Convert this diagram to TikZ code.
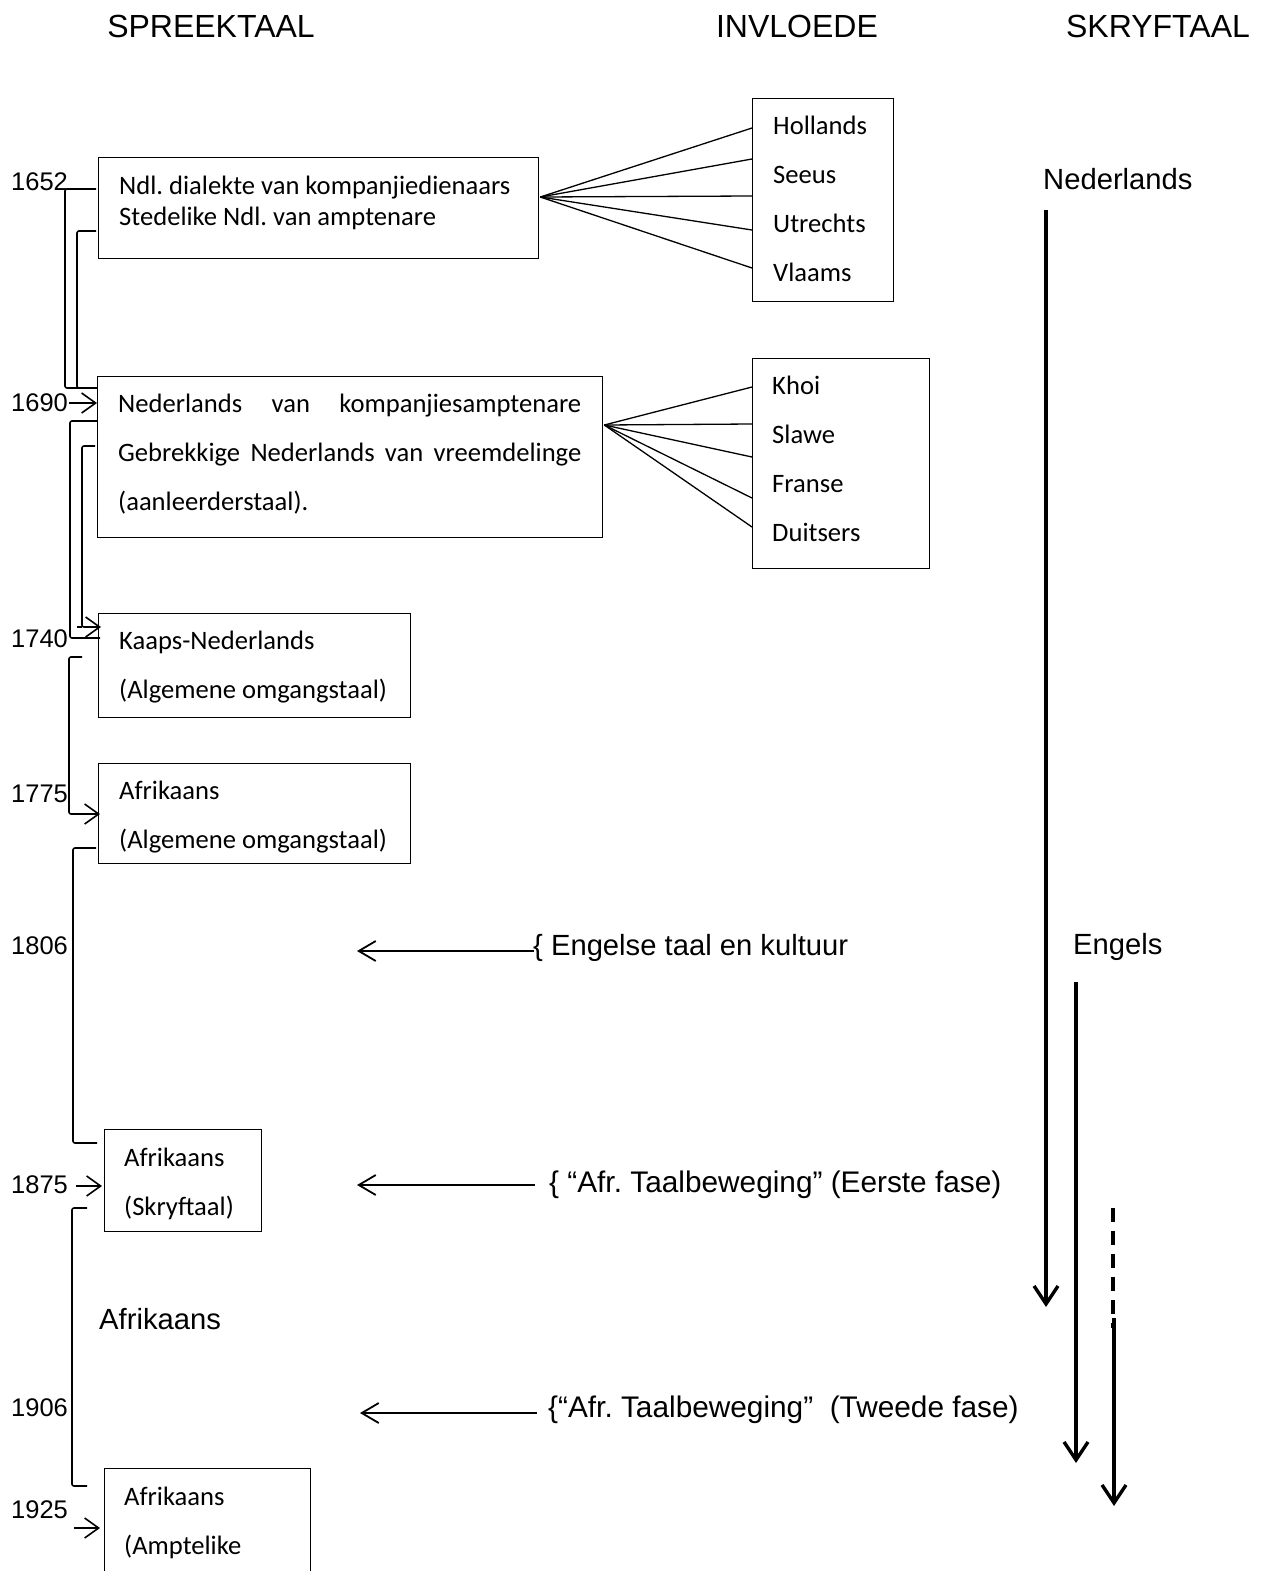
\documentclass[tikz,border=0pt]{standalone}
\usepackage{fontspec}
\setmainfont{Carlito}
\newfontfamily\arial{Liberation Sans}
\usetikzlibrary{arrows.meta,calc}

\begin{document}
\frenchspacing
\begin{tikzpicture}[x=1pt,y=-1pt,
  box/.style={draw, line width=1.3pt, inner sep=0pt, anchor=north west},
  txt/.style={anchor=base west, inner sep=0pt, font=\fontsize{26.6}{30}\selectfont},
  head/.style={anchor=base, inner sep=0pt, font=\arial\fontsize{32}{36}\selectfont},
  big/.style={anchor=base west, inner sep=0pt, font=\arial\fontsize{29.2}{34}\selectfont},
  bigger/.style={anchor=base west, inner sep=0pt, font=\arial\fontsize{29.8}{34}\selectfont},
  yr/.style={anchor=base west, inner sep=0pt, font=\arial\fontsize{25.5}{30}\selectfont},
  fan/.style={line width=1.3pt},
  brk/.style={line width=1.6pt, rounded corners=2pt},
  sarr/.style={brk, -{Straight Barb[length=14pt,width=20pt]}},
  marr/.style={line width=1.8pt, -{Straight Barb[length=17pt,width=20pt]}},
  varr/.style={line width=3.4pt, -{Straight Barb[length=18pt,width=24pt]}},
]
\clip (0,0) rectangle (1267,1571);

% column headings
\node[head] (hSpreek) at (211,38) {SPREEKTAAL};
\node[head] (hInvl) at (797,38) {INVLOEDE};
\node[head] (hSkryf) at (1158,38) {SKRYFTAAL};

% years
\node[yr] (y1652) at (11,190) {1652};
\node[yr] (y1690) at (11,411) {1690};
\node[yr] (y1740) at (11,647) {1740};
\node[yr] (y1775) at (11,802) {1775};
\node[yr] (y1806) at (11,954) {1806};
\node[yr] (y1875) at (11,1193) {1875};
\node[yr] (y1906) at (11,1416) {1906};
\node[yr] (y1925) at (11,1518) {1925};

% boxes of the spoken language
\node[box, minimum width=440, minimum height=101] (b1) at (98,157) {};
\node[txt] (t11) at (119,194) {Ndl. dialekte van kompanjiedienaars};
\node[txt] (t12) at (119,225) {Stedelike Ndl. van amptenare};

\node[box, minimum width=505, minimum height=161] (b2) at (97,376) {};
\node[txt] (t21) at (118,412) {\makebox[463pt][s]{Nederlands van kompanjiesamptenare}};
\node[txt] (t22) at (118,461) {\makebox[463pt][s]{Gebrekkige Nederlands van vreemdelinge}};
\node[txt] (t23) at (118,510) {(aanleerderstaal).};

\node[box, minimum width=312, minimum height=104] (b3) at (98,613) {};
\node[txt] (t31) at (119,649) {Kaaps-Nederlands};
\node[txt] (t32) at (119,698) {(Algemene omgangstaal)};

\node[box, minimum width=312, minimum height=100] (b4) at (98,763) {};
\node[txt] (t41) at (119,799) {Afrikaans};
\node[txt] (t42) at (119,848) {(Algemene omgangstaal)};

\node[box, minimum width=157, minimum height=102] (b5) at (104,1129) {};
\node[txt] (t51) at (124,1166) {Afrikaans};
\node[txt] (t52) at (124,1215) {(Skryftaal)};

\node[box, minimum width=206, minimum height=130] (b6) at (104,1468) {};
\node[txt] (t61) at (124,1505) {Afrikaans};
\node[txt] (t62) at (124,1554) {(Amptelike};

\node[big] (afr) at (99,1329) {Afrikaans};

% influence boxes
\node[box, minimum width=141, minimum height=203] (h) at (752,98) {};
\node[txt] (h1) at (773,134) {Hollands};
\node[txt] (h2) at (773,183) {Seeus};
\node[txt] (h3) at (773,232) {Utrechts};
\node[txt] (h4) at (773,281) {Vlaams};

\node[box, minimum width=177, minimum height=210] (k) at (752,358) {};
\node[txt] (k1) at (772,394) {Khoi};
\node[txt] (k2) at (772,443) {Slawe};
\node[txt] (k3) at (772,492) {Franse};
\node[txt] (k4) at (772,541) {Duitsers};

% fans of influence lines
\coordinate (f1) at ($(b1.north east)+(1,40)$);
\foreach \o in {30,61,98,132,170}
  \draw[fan] (f1) -- ($(h.north west)+(0,\o)$);
\coordinate (f2) at ($(b2.north east)+(1,49)$);
\foreach \o in {29,66,99,140,169}
  \draw[fan] (f2) -- ($(k.north west)+(0,\o)$);

% brackets and arrows on the time line
\draw[brk] ($(b1.north west)+(-2,32)$) -| (65,388) -- ($(b2.north west)+(0,12)$);
\draw[brk] ($(b1.north west)+(-2,74)$) -| (77,388) -- ($(b2.north west)+(0,12)$);
\draw[sarr] ($(y1690.base east)+(1,-8)$) -- ($(b2.north west)+(0,27)$);

\draw[brk] ($(b2.north west)+(0,45)$) -| (70,638) -- ($(b3.north west)+(2,25)$);
\draw[sarr] ($(b2.north west)+(-2,70)$) -| (82,627) -- ($(b3.north west)+(3,14)$);
\draw[brk] (77,627) -- (82,627);

\draw[sarr] ($(b3.north west)+(-16,44)$) -| (69,814) -- ($(b4.north west)+(2,51)$);

\draw[brk] ($(b4.north west)+(-2,85)$) -| (73,1143) -- ($(b5.north west)+(-7,14)$);
\draw[sarr] ($(y1875.base east)+(8,-7)$) -- ($(b5.north west)+(-2,57)$);

\draw[brk] ($(b5.north west)+(-17,79)$) -| (72,1486) -- ($(b6.north west)+(-17,18)$);
\coordinate (a1925) at (74,1528);
\draw[sarr] (a1925) -- ($(b6.north west)+(-4,60)$);

% influences from outside
\node[big] (e1) at (533,955) {\{ Engelse taal en kultuur};
\coordinate (c1) at (357,951);
\draw[marr] ($(e1.base west)+(1,-4)$) -- (c1);

\node[bigger] (e2) at (549,1192) {\{ “Afr. Taalbeweging” (Eerste fase)};
\coordinate (c2) at (357,1185);
\draw[marr] ($(e2.base west)+(-14,-7)$) -- (c2);

\node[bigger] (e3) at (548,1417) {\{“Afr. Taalbeweging”\ \ (Tweede fase)};
\coordinate (c3) at (360,1413);
\draw[marr] ($(e3.base west)+(-11,-4)$) -- (c3);

% written language
\node[big] (ned) at (1043,189) {Nederlands};
\coordinate (n1) at (1046,210);
\coordinate (n2) at (1046,1307);
\draw[varr] (n1) -- (n2);

\node[big] (eng) at (1073,954) {Engels};
\coordinate (g1) at (1076,982);
\coordinate (g2) at (1076,1463);
\draw[varr] (g1) -- (g2);

\coordinate (d1) at (1113,1208);
\coordinate (d2) at (1113,1328);
\draw[line width=3.4pt, dash pattern=on 14pt off 9pt] (d1) -- (d2);
\coordinate (d3) at (1114,1318);
\coordinate (d4) at (1114,1506);
\draw[varr] (d3) -- (d4);
\end{tikzpicture}
\end{document}
